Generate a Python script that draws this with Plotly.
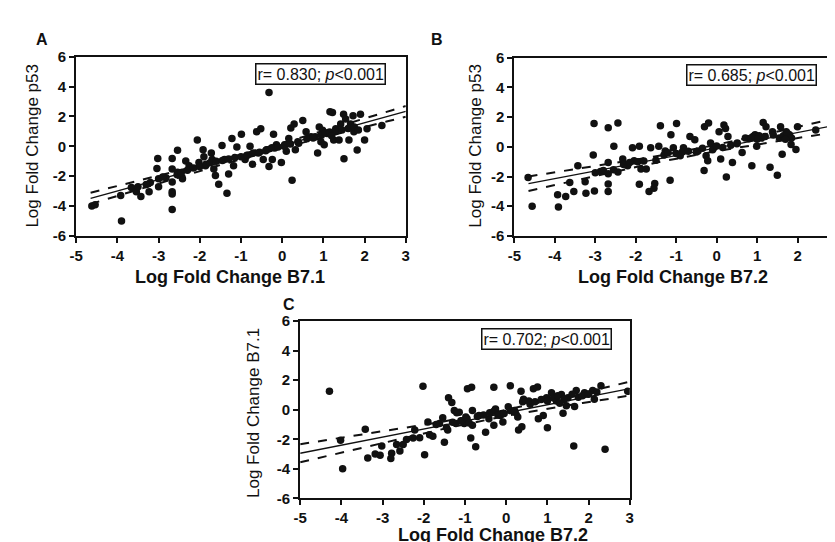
import numpy as np
import plotly.graph_objects as go

# ---------------- data ----------------
a_points = [(-4.62,-4.0),(-4.54,-3.92),(-3.9,-5.0),(-3.92,-3.3),(-3.66,-2.76),(-3.54,-3.04),(-3.43,-3.36),
 (-3.2,-2.43),(-3.23,-3.04),(-3.02,-0.81),(-3.04,-1.48),(-3.0,-2.17),(-3.0,-2.71),(-2.82,-2.1),(-2.67,-0.81),
 (-2.67,-1.52),(-2.67,-2.39),(-2.67,-3.04),(-2.67,-3.2),(-2.67,-4.23),(-2.54,-0.27),(-2.54,-1.74),(-2.46,-1.96),
 (-2.42,-2.17),(-2.34,-0.98),(-2.26,-1.31),(-2.06,0.42),(-2.02,-1.09),(-1.92,-0.23),(-1.9,-0.7),(-1.86,-1.31),
 (-1.72,-0.44),(-1.7,-0.88),(-1.66,-1.52),(-1.62,-1.96),(-1.54,-2.54),(-1.46,0.05),(-1.4,-0.88),(-1.34,-3.15),
 (-1.3,-1.85),(-1.22,0.53),(-1.18,-1.31),(-1.1,-0.05),(-0.99,0.81),(-0.9,-0.88),(-0.86,-0.62),(-0.78,0.0),
 (-0.72,-1.2),(-0.62,0.97),(-0.58,-0.44),(-0.52,1.18),(-0.46,-0.88),(-0.38,-0.23),(-0.32,-1.35),(-0.32,3.6),
 (-0.24,-0.88),(-0.21,0.81),(-0.18,-0.12),(-0.14,0.1),(-0.02,-1.09),(0.06,0.1),(0.1,-0.33),(0.16,0.53),
 (0.21,1.22),(0.24,-2.28),(0.29,1.5),(0.32,-0.23),(0.38,0.31),(0.5,1.72),(0.58,0.97),(0.7,0.64),(0.8,0.64),
 (0.86,-0.44),(0.9,1.29),(0.94,0.31),(0.98,1.07),(1.02,0.1),(1.09,0.86),(1.16,2.32),(1.22,2.26),(1.25,0.42),
 (1.3,1.18),(1.38,0.42),(1.42,1.5),(1.49,2.15),(1.5,-0.83),(1.54,1.83),(1.62,0.42),(1.66,1.5),(1.72,2.04),
 (1.74,0.97),(1.82,-0.25),(1.9,2.15),(2.0,0.42),(2.06,1.18),(2.42,1.39),
 (-3.5,-2.7),(-3.3,-2.55),(-2.9,-2.05),(-2.55,-1.9),(-2.45,-1.75),(-2.3,-1.6),(-2.15,-1.45),(-2.0,-1.35),
 (-1.85,-1.2),(-1.75,-1.1),(-1.6,-1.0),(-1.45,-0.95),(-1.3,-0.85),(-1.15,-0.75),(-1.0,-0.7),(-0.85,-0.6),
 (-0.7,-0.45),(-0.55,-0.4),(-0.4,-0.3),(-0.25,-0.1),(-0.1,-0.05),(0.05,0.0),(0.2,0.15),(0.4,0.2),(0.6,0.5),
 (0.75,0.55),(0.95,0.75),(1.05,0.9),(1.15,0.95),(1.3,1.0),(1.45,1.1),(1.6,1.2),(1.75,1.3),(1.85,1.1),(1.2,0.7)]

b_points = [(-4.66,-2.07),(-4.56,-4.0),(-3.93,-3.23),(-3.91,-4.06),(-3.73,-3.34),(-3.63,-2.4),(-3.53,-3.01),
 (-3.43,-1.27),(-3.25,-2.36),(-3.23,-3.12),(-3.03,1.57),(-3.05,-0.55),(-3.02,-2.97),(-2.87,-1.66),(-2.68,1.29),
 (-2.68,-1.05),(-2.68,-1.81),(-2.68,-2.51),(-2.68,-3.01),(-2.54,0.04),(-2.44,1.61),(-2.44,-1.7),(-2.32,-0.83),
 (-2.2,-1.27),(-2.08,-0.07),(-2.04,-0.94),(-1.91,0.04),(-1.91,-2.53),(-1.87,-1.49),(-1.74,-1.49),(-1.63,-0.07),
 (-1.67,-3.01),(-1.53,-2.47),(-1.55,-2.79),(-1.43,0.04),(-1.39,1.42),(-1.27,-0.29),(-1.15,-2.25),(-1.13,0.81),
 (-1.07,-0.07),(-0.99,1.57),(-0.9,-0.61),(-0.82,-0.07),(-0.66,0.7),(-0.54,0.48),(-0.46,-0.29),(-0.31,-1.59),
 (-0.3,1.35),(-0.26,-0.61),(-0.2,1.61),(-0.22,-0.94),(-0.15,0.26),(-0.07,-0.07),(0.06,1.02),(0.1,-0.83),
 (0.18,1.46),(0.22,1.24),(0.24,-2.03),(0.28,0.7),(0.39,-1.05),(0.51,0.26),(0.63,-0.39),(0.71,0.59),
 (0.87,-1.27),(0.95,0.81),(0.99,0.04),(1.11,0.59),(1.15,1.64),(1.22,1.35),(1.32,-1.38),(1.38,1.02),
 (1.5,-1.92),(1.58,1.35),(1.62,-0.5),(1.72,1.02),(1.8,0.81),(1.84,0.15),(1.96,-0.18),(2.0,1.35),(2.45,1.13),
 (-3.0,-1.75),(-2.8,-1.6),(-2.55,-1.55),(-2.3,-1.2),(-2.15,-1.05),(-1.95,-1.0),(-1.8,-0.95),(-1.5,-0.9),
 (-1.3,-0.55),(-1.2,-0.4),(-1.0,-0.45),(-0.85,-0.35),(-0.7,-0.3),(-0.5,-0.35),(-0.35,-0.1),(-0.1,-0.2),
 (0.0,0.05),(0.15,-0.05),(0.35,0.1),(0.5,0.2),(0.8,0.55),(0.9,0.7),(1.05,0.75),(1.2,0.7),(1.4,0.8),
 (1.55,0.6),(1.65,0.75),(1.75,0.9),(1.85,0.6),(1.7,0.5),(1.0,0.5),(0.85,0.6)]

c_points = [(-4.29,1.26),(-4.02,-2.07),(-3.97,-3.99),(-3.42,-1.32),(-3.36,-3.27),(-3.18,-3.0),(-3.06,-3.07),
 (-3.02,-2.46),(-2.78,-2.94),(-2.8,-3.29),(-2.66,-2.35),(-2.58,-2.79),(-2.5,-2.35),(-2.42,-2.02),(-2.26,-1.91),
 (-2.22,-1.37),(-2.02,1.59),(-1.98,-3.05),(-1.9,-0.82),(-1.86,-1.69),(-1.78,-1.8),(-1.62,-0.93),(-1.54,-0.54),
 (-1.5,-2.2),(-1.42,-1.37),(-1.4,0.82),(-1.32,0.49),(-1.26,-0.05),(-1.22,-0.93),(-1.14,-0.16),(-1.02,-0.93),
 (-0.98,-0.49),(-0.94,1.43),(-0.84,1.52),(-0.86,-1.91),(-0.82,-0.05),(-0.82,-1.04),(-0.74,-2.5),(-0.66,-0.38),
 (-0.5,-1.52),(-0.42,-0.6),(-0.3,1.52),(-0.3,-1.04),(-0.26,0.05),(-0.14,-0.38),(-0.08,-0.82),(0.1,1.63),
 (0.1,-0.05),(0.22,-0.16),(0.28,-0.49),(0.3,-1.37),(0.38,-1.15),(0.36,1.26),(0.42,0.71),(0.58,0.38),
 (0.66,1.43),(0.76,1.54),(0.78,-0.6),(0.9,-0.38),(0.98,0.82),(1.0,-1.21),(1.1,1.15),(1.22,0.6),(1.34,1.04),
 (1.38,-0.23),(1.46,0.27),(1.5,0.82),(1.66,0.22),(1.7,1.3),(1.64,-2.46),(1.9,1.15),(2.1,1.3),(2.14,0.71),
 (2.3,1.63),(2.4,-2.68),(2.95,1.25),
 (-2.1,-1.9),(-1.7,-1.0),(-1.45,-1.2),(-1.3,-0.85),(-1.2,-0.2),(-1.1,-0.75),(-0.95,-0.6),(-0.9,-0.9),
 (-0.7,-0.45),(-0.55,-0.35),(-0.4,-0.2),(-0.3,-0.1),(-0.2,-0.35),(-0.05,-0.25),(0.05,0.2),(0.2,-0.05),
 (0.4,0.55),(0.55,0.6),(0.7,0.55),(0.85,0.7),(1.0,0.6),(1.15,0.8),(1.25,0.95),(1.4,0.7),(1.6,1.05),
 (1.75,0.85),(1.85,0.95),(2.0,1.05),(2.2,1.2),(1.3,0.45)]

panel_letters = ["A", "B", "C"]
x_titles = ["Log Fold Change B7.1", "Log Fold Change B7.2", "Log Fold Change B7.2"]
y_titles = ["Log Fold Change p53", "Log Fold Change p53", "Log Fold Change B7.1"]
stat_texts = ["r= 0.830; <i>p</i>&lt;0.001", "r= 0.685; <i>p</i>&lt;0.001", "r= 0.702; <i>p</i>&lt;0.001"]
fit_starts = [-4.65, -4.65, -5.0]
x_ticks = [-5, -4, -3, -2, -1, 0, 1, 2, 3]
y_ticks = [-6, -4, -2, 0, 2, 4, 6]

# ---------------- layout geometry (pixels) ----------------
W, H = 835, 542
FONT = "Arial, Liberation Sans, sans-serif"
INK = "#111111"
panels = [
    dict(x0=62, x1=396, y0=41, y1=226),
    dict(x0=506, x1=834, y0=42, y1=226),
    dict(x0=289, x1=623, y0=314, y1=497),
]
letter_pos = [(27, 23), (428, 23), (278, 297)]
xtitle_pos = [(218, 268), (667, 268), (484, 535)]
ytitle_pos = [(18, 133), (467, 133), (241, 409)]
box_pos = [(381, 47), (818, 49), (610, 321)]


def px(x):
    return x / W


def py(y):
    return 1 - y / H


def bold(s):
    return "<b>" + s + "</b>"


def fit_band(pts, xs):
    arr = np.array(pts, dtype=float)
    x, y = arr[:, 0], arr[:, 1]
    n = len(x)
    b, a = np.polyfit(x, y, 1)
    res = y - (a + b * x)
    s = np.sqrt(np.sum(res ** 2) / (n - 2))
    sxx = np.sum((x - x.mean()) ** 2)
    fit = a + b * xs
    se = s * np.sqrt(1.0 / n + (xs - x.mean()) ** 2 / sxx)
    t = 1.98
    return fit, fit - t * se, fit + t * se


fig = go.Figure()
annotations = []
all_points = [a_points, b_points, c_points]
for i, pts in enumerate(all_points):
    sfx = "" if i == 0 else str(i + 1)
    xa, ya = "x" + sfx, "y" + sfx
    xs = np.linspace(fit_starts[i], 3, 50)
    fit, lo, hi = fit_band(pts, xs)
    for yy, dash, w in [(lo, "dash", 2), (hi, "dash", 2), (fit, "solid", 1.3)]:
        fig.add_trace(go.Scatter(x=xs, y=yy, mode="lines", xaxis=xa, yaxis=ya,
                                 line=dict(color=INK, width=w, dash=dash),
                                 showlegend=False, hoverinfo="skip"))
    fig.add_trace(go.Scatter(x=[p[0] for p in pts], y=[p[1] for p in pts], mode="markers",
                             xaxis=xa, yaxis=ya, showlegend=False,
                             marker=dict(size=7.5, color=INK, line=dict(width=0))))
    p = panels[i]
    axis_common = dict(showline=True, linewidth=2, linecolor=INK, mirror=True,
                       ticks="outside", ticklen=5, tickwidth=2, tickcolor=INK,
                       showgrid=False, zeroline=False,
                       tickfont=dict(family=FONT, size=15, color=INK))
    fig.update_layout(**{
        "xaxis" + sfx: dict(axis_common, domain=[px(p["x0"]), px(p["x1"])], range=[-5, 3],
                            tickvals=x_ticks, ticktext=[bold(str(v)) for v in x_ticks], anchor=ya),
        "yaxis" + sfx: dict(axis_common, domain=[py(p["y1"]), py(p["y0"])], range=[-6, 6],
                            tickvals=y_ticks, ticktext=[bold(str(v)) for v in y_ticks], anchor=xa),
    })
    lx, ly = letter_pos[i]
    annotations.append(dict(text=bold(panel_letters[i]), x=px(lx), y=py(ly), xref="paper", yref="paper",
                            showarrow=False, xanchor="center", yanchor="middle",
                            font=dict(family=FONT, size=16, color=INK)))
    tx, ty = xtitle_pos[i]
    annotations.append(dict(text=bold(x_titles[i]), x=px(tx), y=py(ty), xref="paper", yref="paper",
                            showarrow=False, xanchor="center", yanchor="middle",
                            font=dict(family=FONT, size=18, color=INK)))
    yx, yy_ = ytitle_pos[i]
    annotations.append(dict(text=y_titles[i], x=px(yx), y=py(yy_), xref="paper", yref="paper",
                            showarrow=False, xanchor="center", yanchor="middle", textangle=-90,
                            font=dict(family=FONT, size=17, color=INK)))
    bx, by = box_pos[i]
    annotations.append(dict(text=stat_texts[i], x=px(bx - 5), y=py(by), xref="paper", yref="paper",
                            showarrow=False, xanchor="right", yanchor="top",
                            bordercolor=INK, borderwidth=1.5, borderpad=1, bgcolor="white",
                            font=dict(family=FONT, size=16, color=INK)))

fig.update_layout(width=W, height=H, margin=dict(l=0, r=0, t=0, b=0),
                  paper_bgcolor="white", plot_bgcolor="white",
                  annotations=annotations)
fig.write_html("out.html")
